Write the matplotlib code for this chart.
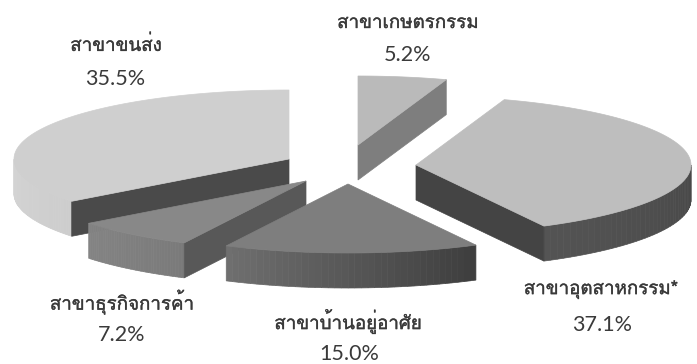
# -*- coding: utf-8 -*-
# exploded 3d style pie, drawn by hand because matplotlib pie has no depth
import numpy as np
import matplotlib
matplotlib.use('Agg')
import matplotlib.pyplot as plt
import matplotlib.patheffects as pe

plt.rcParams['font.family'] = ['Loma', 'DejaVu Sans']

# data, clockwise from 12 o'clock
labels = ['สาขาเกษตรกรรม', 'สาขาอุตสาหกรรม*', 'สาขาบ้านอยู่อาศัย', 'สาขาธุรกิจการค้า', 'สาขาขนส่ง']
values = [5.2, 37.1, 15.0, 7.2, 35.5]

# layout, pixels of the reference
apex_x = [358, 416, 348, 306, 289]
apex_y = [145, 165, 184, 181, 159]
label_x = [408, 601, 348, 122, 116]
label_y = [23, 290, 321, 302, 45]
value_x = [408, 602, 349, 122, 115]
value_y = [55, 325, 354, 335, 79]

top_grey = [186, 190, 126, 136, 207]
cut_grey = [126, 68, None, 88, 74]      # flat wall seen from the front
cut_edge = [1, 1, 0, 0, 0]              # 0 = start radius of the slice, 1 = end radius
wall_from = [None, 72, 62, 122, 205]    # outer wall colour at the start angle
wall_to = [None, 84, 112, 132, 212]     # and at the end angle

RX = 275.0
RY = 69.0
DEPTH = 35.0
draw_order = [4, 3, 2, 0, 1]


def grey(g):
    return (g / 255.0, g / 255.0, g / 255.0)


def arc(cx, cy, t):
    return cx + RX * np.sin(t), cy - RY * np.cos(t)


fig = plt.figure(figsize=(6.97, 3.64), dpi=100)
ax = fig.add_axes([0, 0, 1, 1])
ax.set_xlim(0, 697)
ax.set_ylim(364, 0)
ax.axis('off')

edges = np.concatenate([[0], np.cumsum(values)]) / np.sum(values) * 2 * np.pi

for z, i in enumerate(draw_order):
    t0, t1 = edges[i], edges[i + 1]
    cx, cy = apex_x[i], apex_y[i]

    # outer wall, only the part that faces us, in thin steps for the shading
    if wall_from[i] is not None:
        a = max(t0, np.pi / 2)
        b = min(t1, 3 * np.pi / 2)
        steps = np.linspace(a, b, 40)
        for k in range(len(steps) - 1):
            seg = np.linspace(steps[k], steps[k + 1], 4)
            x, y = arc(cx, cy, seg)
            f = (steps[k] - a) / (b - a)
            g = grey(wall_from[i] + (wall_to[i] - wall_from[i]) * f)
            ax.fill(np.r_[x, x[::-1]], np.r_[y, y[::-1] + DEPTH], color=g, lw=0.5, zorder=z + 1)

    # straight cut wall
    if cut_grey[i] is not None:
        ex, ey = arc(cx, cy, t1 if cut_edge[i] else t0)
        ax.fill([cx, ex, ex, cx], [cy, ey, ey + DEPTH, cy + DEPTH],
                color=grey(cut_grey[i]), lw=0.5, zorder=z + 1)

    # top face
    x, y = arc(cx, cy, np.linspace(t0, t1, 120))
    ax.fill(np.r_[cx, x], np.r_[cy, y], color=grey(top_grey[i]), lw=0.5, zorder=z + 1)

# thicken the thin font a little, the scan is heavier
heavier = [pe.withStroke(linewidth=0.25, foreground='#3a3a3a')]
for i in range(len(values)):
    ax.text(label_x[i], label_y[i], labels[i], ha='center', va='center',
            fontsize=13.5, color='#3a3a3a', zorder=10, path_effects=heavier)
    ax.text(value_x[i], value_y[i], '%.1f%%' % values[i], ha='center', va='center',
            family='Lato', fontsize=15.5, color='#3a3a3a', zorder=10)

fig.savefig('out.png', dpi=100)
